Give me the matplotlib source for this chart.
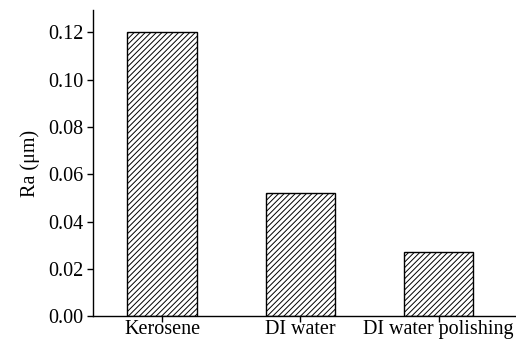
import matplotlib
matplotlib.use("Agg")
import matplotlib.pyplot as plt

# Surface roughness per machining medium
categories = ["Kerosene", "DI water", "DI water polishing"]
ra_values = [0.120, 0.052, 0.027]
yticks = [0.00, 0.02, 0.04, 0.06, 0.08, 0.10, 0.12]

plt.rcParams["font.family"] = ["Liberation Serif", "DejaVu Serif"]
plt.rcParams["font.size"] = 14.5
plt.rcParams["hatch.linewidth"] = 0.7

fig = plt.figure(figsize=(5.16, 3.44), dpi=100)
ax = fig.add_axes([0.180, 0.081, 0.82, 0.890])

x = range(len(categories))
ax.bar(x, ra_values, width=0.5, color="white", edgecolor="black",
       linewidth=1.0, hatch="//////")

ax.set_xlim(-0.5, 2.56)
ax.set_ylim(0, 0.1295)
ax.set_xticks(list(x))
ax.set_xticklabels(categories)
ax.set_yticks(yticks)
ax.set_yticklabels([f"{v:.2f}" for v in yticks])
ax.set_ylabel("Ra (\u03bcm)", labelpad=6)

for side in ("top", "right"):
    ax.spines[side].set_visible(False)
for side in ("left", "bottom"):
    ax.spines[side].set_linewidth(1.0)
ax.tick_params(direction="out", length=4.5, width=1.0)
ax.tick_params(axis="y", pad=2)
ax.tick_params(axis="x", pad=-2)

fig.savefig("out.png", dpi=100)
